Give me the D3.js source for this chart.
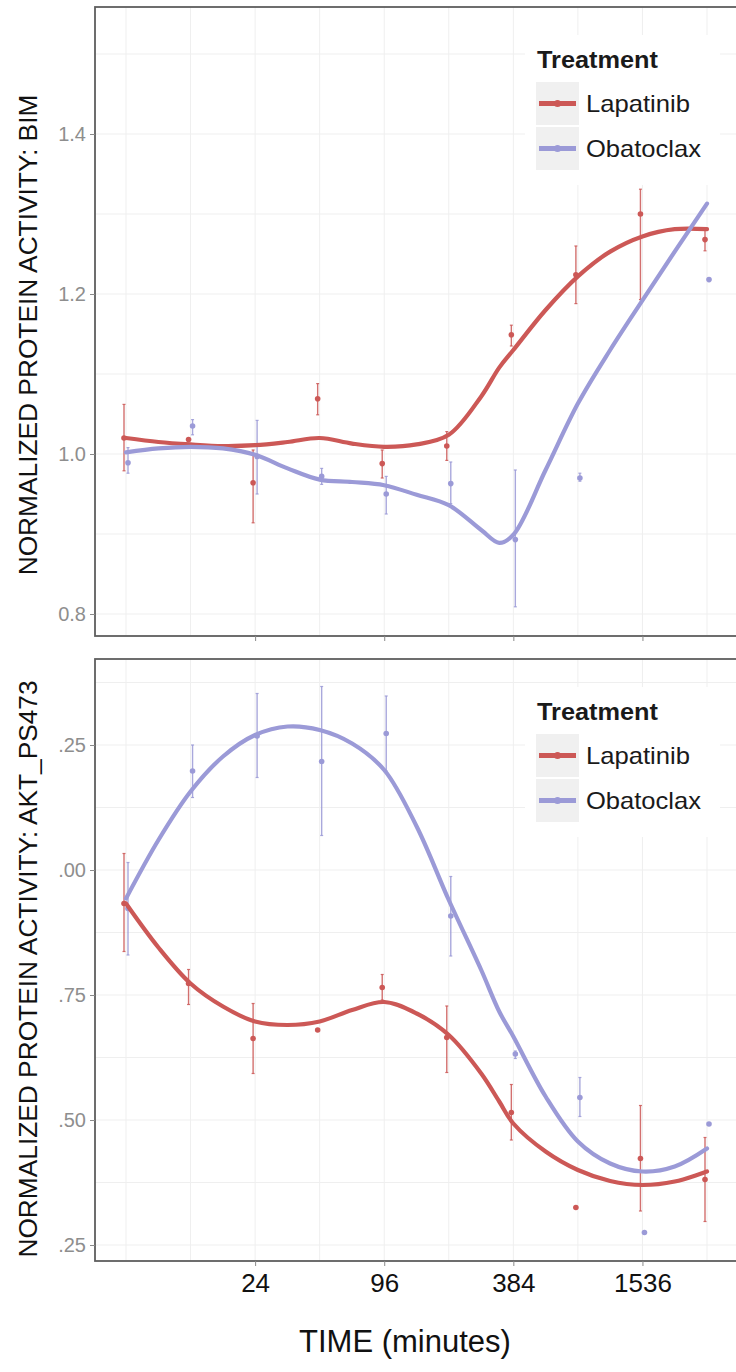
<!DOCTYPE html>
<html>
<head>
<meta charset="utf-8">
<script src="https://cdn.jsdelivr.net/npm/d3@7"></script>
<style>
  body { margin: 0; background: #fff; }
  svg { display: block; font-family: "Liberation Sans", Arial, Helvetica, sans-serif; }
</style>
</head>
<body>
<div id="chart"></div>
<script>
// time points (minutes), log2 axis
const times = [6, 12, 24, 48, 96, 192, 384, 768, 1536, 3072];
const timeTicks = [24, 96, 384, 1536];
const fitTimes = [6, 8.5, 12, 17, 24, 34, 48, 68, 96, 136, 192, 272, 330, 384, 543, 768, 1086, 1536, 2172, 3072];
const treatments = ['Lapatinib', 'Obatoclax'];

// BIM
const bimLapMean = [1.020, 1.018, 0.964, 1.069, 0.988, 1.010, 1.149, 1.224, 1.300, 1.268];
const bimLapLo   = [0.979, null, 0.914, 1.049, 0.970, 0.992, 1.135, 1.188, 1.193, 1.254];
const bimLapHi   = [1.062, null, 1.005, 1.088, 1.005, 1.028, 1.161, 1.260, 1.331, 1.282];
const bimObaMean = [0.989, 1.035, 0.997, 0.972, 0.950, 0.963, 0.893, 0.970, null, 1.218];
const bimObaLo   = [0.976, 1.024, 0.950, 0.962, 0.925, 0.938, 0.809, 0.966, null, null];
const bimObaHi   = [1.008, 1.043, 1.042, 0.982, 0.972, 0.990, 0.980, 0.976, null, null];
const bimLapFit  = [1.020, 1.015, 1.012, 1.010, 1.011, 1.015, 1.020, 1.013, 1.009, 1.012, 1.024, 1.072, 1.108, 1.130, 1.180, 1.222, 1.253, 1.272, 1.281, 1.281];
const bimObaFit  = [1.002, 1.007, 1.009, 1.007, 0.999, 0.982, 0.968, 0.965, 0.961, 0.949, 0.936, 0.905, 0.889, 0.899, 0.980, 1.063, 1.130, 1.192, 1.253, 1.313];

// AKT_PS473
const aktLapMean = [0.933, 0.773, 0.663, 0.680, 0.765, 0.665, 0.515, 0.325, 0.423, 0.381];
const aktLapLo   = [0.837, 0.731, 0.593, null, 0.740, 0.595, 0.460, null, 0.318, 0.297];
const aktLapHi   = [1.033, 0.801, 0.733, null, 0.791, 0.728, 0.571, null, 0.529, 0.465];
const aktObaMean = [0.923, 1.198, 1.268, 1.217, 1.273, 0.908, 0.632, 0.545, 0.275, 0.492];
const aktObaLo   = [0.830, 1.145, 1.185, 1.069, 1.198, 0.828, 0.623, 0.507, null, null];
const aktObaHi   = [1.015, 1.250, 1.353, 1.367, 1.348, 0.987, 0.638, 0.585, null, null];
const aktLapFit  = [0.933, 0.845, 0.773, 0.727, 0.697, 0.690, 0.697, 0.720, 0.736, 0.713, 0.670, 0.593, 0.537, 0.493, 0.437, 0.400, 0.378, 0.370, 0.377, 0.397];
const aktObaFit  = [0.943, 1.060, 1.157, 1.227, 1.270, 1.287, 1.280, 1.253, 1.200, 1.087, 0.940, 0.800, 0.717, 0.667, 0.547, 0.457, 0.413, 0.397, 0.407, 0.443];

// y ticks
const bimTicks = [0.8, 1.0, 1.2, 1.4];
const bimTickLabels = ['0.8', '1.0', '1.2', '1.4'];
const aktTicks = [0.25, 0.5, 0.75, 1.0, 1.25];
const aktTickLabels = ['.25', '.50', '.75', '.00', '.25'];

const colors = { Lapatinib: '#cc5856', Obatoclax: '#9b9ad7' };

const W = 736, H = 1372;
const svg = d3.select('#chart').append('svg').attr('width', W).attr('height', H);

const xLeft = 95, xRight = 742;
const x = d3.scaleLog().base(2).domain([6, 3072]).range([126, 707]);

const panels = [
  {
    top: 7, bottom: 636, domain: [0.8, 1.4], range: [614, 134],
    ticks: bimTicks, tickLabels: bimTickLabels, gridStep: 0.1,
    title: 'NORMALIZED PROTEIN ACTIVITY: BIM', titleY: 335, showXLabels: false,
    series: [
      { name: 'Lapatinib', mean: bimLapMean, lo: bimLapLo, hi: bimLapHi, fit: bimLapFit },
      { name: 'Obatoclax', mean: bimObaMean, lo: bimObaLo, hi: bimObaHi, fit: bimObaFit },
    ],
  },
  {
    top: 659, bottom: 1261, domain: [0.25, 1.25], range: [1245, 745],
    ticks: aktTicks, tickLabels: aktTickLabels, gridStep: 0.125,
    title: 'NORMALIZED PROTEIN ACTIVITY: AKT_PS473', titleY: 969, showXLabels: true,
    series: [
      { name: 'Lapatinib', mean: aktLapMean, lo: aktLapLo, hi: aktLapHi, fit: aktLapFit },
      { name: 'Obatoclax', mean: aktObaMean, lo: aktObaLo, hi: aktObaHi, fit: aktObaFit },
    ],
  },
];

const legendLabelWidth = { Lapatinib: 104, Obatoclax: 115 };

panels.forEach((p) => {
  const y = d3.scaleLinear().domain(p.domain).range(p.range);
  const g = svg.append('g');

  const clipId = 'clip' + p.top;
  svg.append('clipPath').attr('id', clipId).append('rect')
    .attr('x', xLeft).attr('y', p.top).attr('width', xRight - xLeft).attr('height', p.bottom - p.top);

  // grid (major + minor)
  const yMin = y.invert(p.bottom), yMax = y.invert(p.top);
  const gridVals = d3.range(Math.ceil(yMin / p.gridStep - 1e-6), Math.floor(yMax / p.gridStep + 1e-6) + 1)
    .map((k) => k * p.gridStep);
  g.selectAll('.hgrid').data(gridVals).enter().append('line')
    .attr('x1', xLeft).attr('x2', xRight).attr('y1', (d) => y(d)).attr('y2', (d) => y(d))
    .attr('stroke', '#efefef').attr('stroke-width', 1);
  g.selectAll('.vgrid').data(times).enter().append('line')
    .attr('x1', (d) => x(d)).attr('x2', (d) => x(d)).attr('y1', p.top).attr('y2', p.bottom)
    .attr('stroke', '#efefef').attr('stroke-width', 1);

  const lg = svg.append('g').attr('transform', `translate(0,${p.top})`);

  const plot = g.append('g').attr('clip-path', `url(#${clipId})`);
  p.series.forEach((s, si) => {
    const dx = si === 0 ? -2 : 2;
    const col = colors[s.name];
    const bars = times.map((t, i) => ({ t, lo: s.lo[i], hi: s.hi[i] })).filter((d) => d.lo != null);
    plot.selectAll(null).data(bars).enter().append('line')
      .attr('x1', (d) => x(d.t) + dx).attr('x2', (d) => x(d.t) + dx)
      .attr('y1', (d) => y(d.lo)).attr('y2', (d) => y(d.hi))
      .attr('stroke', col).attr('stroke-width', 1.4).attr('opacity', 0.85);
    ['lo', 'hi'].forEach((k) => {
      plot.selectAll(null).data(bars).enter().append('line')
        .attr('x1', (d) => x(d.t) + dx - 1.5).attr('x2', (d) => x(d.t) + dx + 1.5)
        .attr('y1', (d) => y(d[k])).attr('y2', (d) => y(d[k]))
        .attr('stroke', col).attr('stroke-width', 1.2).attr('opacity', 0.85);
    });
    const pts = times.map((t, i) => ({ t, v: s.mean[i] })).filter((d) => d.v != null);
    plot.selectAll(null).data(pts).enter().append('circle')
      .attr('cx', (d) => x(d.t) + dx).attr('cy', (d) => y(d.v)).attr('r', 2.8)
      .attr('fill', col);
  });
  p.series.forEach((s) => {
    const line = d3.line().x((d, i) => x(fitTimes[i])).y((d) => y(d)).curve(d3.curveCatmullRom.alpha(0.5));
    plot.append('path').attr('d', line(s.fit)).attr('fill', 'none')
      .attr('stroke', colors[s.name]).attr('stroke-width', 4.2).attr('stroke-linecap', 'round');
  });

  // legend
  lg.append('rect').attr('x', 525).attr('y', 28).attr('width', 195).attr('height', 150).attr('fill', '#fff');
  lg.append('text').attr('x', 537).attr('y', 61).attr('font-size', 23).attr('font-weight', 'bold')
    .attr('fill', '#1a1a1a').attr('textLength', 121).attr('lengthAdjust', 'spacingAndGlyphs').text('Treatment');
  treatments.forEach((name, i) => {
    const ky = 75 + i * 45;
    lg.append('rect').attr('x', 536).attr('y', ky).attr('width', 43).attr('height', 43).attr('fill', '#f0f0f0');
    lg.append('line').attr('x1', 539).attr('x2', 576).attr('y1', ky + 21.5).attr('y2', ky + 21.5)
      .attr('stroke', colors[name]).attr('stroke-width', 5);
    lg.append('circle').attr('cx', 557.5).attr('cy', ky + 21.5).attr('r', 3.5).attr('fill', colors[name]);
    lg.append('text').attr('x', 586).attr('y', ky + 30).attr('font-size', 24).attr('fill', '#1a1a1a')
      .attr('textLength', legendLabelWidth[name]).attr('lengthAdjust', 'spacingAndGlyphs').text(name);
  });

  // border
  g.append('rect').attr('x', xLeft).attr('y', p.top).attr('width', xRight - xLeft).attr('height', p.bottom - p.top)
    .attr('fill', 'none').attr('stroke', '#5e5e5e').attr('stroke-width', 1.8);

  // y axis
  const yAxis = d3.axisLeft(y).tickValues(p.ticks).tickSize(5).tickPadding(4)
    .tickFormat((d, i) => p.tickLabels[i]);
  const ya = svg.append('g').attr('transform', `translate(${xLeft},0)`).call(yAxis);
  ya.select('.domain').remove();
  ya.selectAll('line').attr('stroke', '#8a8a8a');
  ya.selectAll('text').attr('fill', '#8e8e8e').attr('font-size', 20)
    .attr('font-family', '"Liberation Sans", Arial, sans-serif');

  // x axis
  const xAxis = d3.axisBottom(x).tickValues(timeTicks).tickSize(5).tickPadding(8)
    .tickFormat((d) => (p.showXLabels ? d3.format('d')(d) : ''));
  const xa = svg.append('g').attr('transform', `translate(0,${p.bottom})`).call(xAxis);
  xa.select('.domain').remove();
  xa.selectAll('line').attr('stroke', '#8a8a8a');
  xa.selectAll('text').attr('fill', '#111').attr('font-size', 26)
    .attr('font-family', '"Liberation Sans", Arial, sans-serif');

  // y title
  svg.append('text').attr('transform', `translate(37,${p.titleY}) rotate(-90)`)
    .attr('text-anchor', 'middle').attr('font-size', 26.3).attr('fill', '#111').text(p.title);
});

svg.append('text').attr('x', 405).attr('y', 1352).attr('text-anchor', 'middle')
  .attr('font-size', 31).attr('fill', '#111').text('TIME (minutes)');
</script>
</body>
</html>
